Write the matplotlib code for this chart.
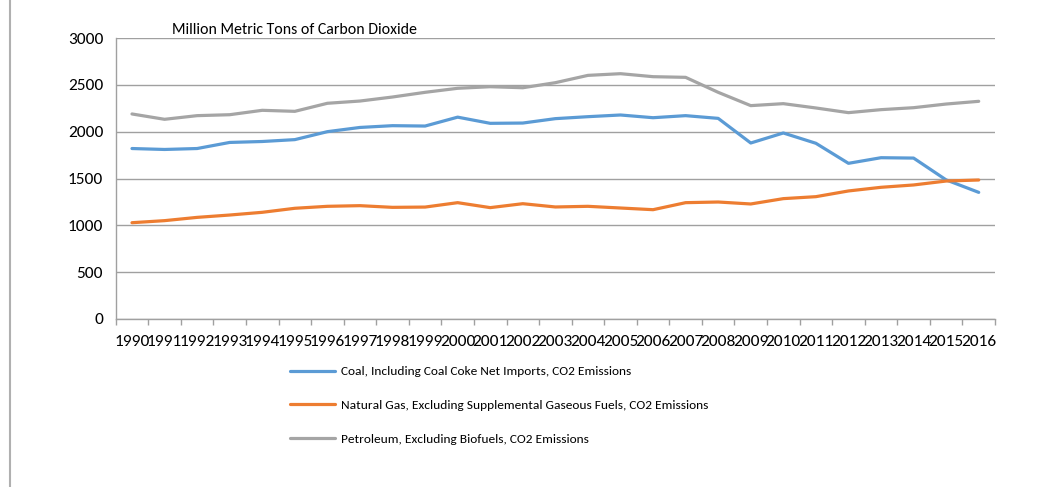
import matplotlib
matplotlib.use("Agg")
import matplotlib.pyplot as plt
from matplotlib.lines import Line2D
import numpy as np

years = [str(y) for y in range(1990, 2017)]
coal = [1820, 1810, 1820, 1885, 1895, 1915, 2000, 2045, 2064, 2060, 2155, 2089,
        2092, 2139, 2160, 2178, 2149, 2171, 2142, 1879, 1986, 1876, 1662, 1722,
        1718, 1485, 1352]
gas = [1028, 1050, 1085, 1110, 1139, 1182, 1203, 1210, 1192, 1195, 1242, 1189,
       1231, 1196, 1203, 1185, 1167, 1242, 1249, 1228, 1285, 1306, 1367, 1406,
       1431, 1473, 1484]
petro = [2189, 2132, 2171, 2181, 2228, 2217, 2303, 2327, 2370, 2420, 2463, 2480,
         2469, 2523, 2601, 2619, 2587, 2580, 2420, 2278, 2299, 2253, 2203, 2235,
         2256, 2295, 2324]
labels = ["Coal, Including Coal Coke Net Imports, CO2 Emissions",
          "Natural Gas, Excluding Supplemental Gaseous Fuels, CO2 Emissions",
          "Petroleum, Excluding Biofuels, CO2 Emissions"]
colors = ["#5B9BD5", "#ED7D31", "#A5A5A5"]
title = "Million Metric Tons of Carbon Dioxide"

plt.rcParams['font.family'] = ['Carlito', 'Liberation Sans Narrow', 'Liberation Sans', 'DejaVu Sans']

fig = plt.figure(figsize=(10.43, 4.87), dpi=100)
ax = fig.add_axes([115.7/1043, 1-319/487, (995-115.7)/1043, (319-38)/487])

x = np.arange(len(years))
lines = []
for s, c in zip([coal, gas, petro], colors):
    l, = ax.plot(x, s, color=c, lw=2.3, solid_capstyle='round', zorder=3)
    lines.append(l)

ax.set_xlim(-0.5, len(years) - 0.5)
ax.set_ylim(0, 3000)
ax.set_yticks(range(0, 3001, 500))
ax.yaxis.grid(True, color="#A0A0A0", lw=1)
ax.set_axisbelow(True)
ax.set_xticks(x)
ax.set_xticklabels(years, fontsize=12.5)
ax.set_xticks(np.arange(-0.5, len(years)), minor=True)
ax.tick_params(axis='x', which='major', length=0, pad=11.5)
ax.tick_params(axis='x', which='minor', length=4, color="#A0A0A0", width=1)
ax.tick_params(axis='y', length=0, pad=9, labelsize=12.5)
for sp in ['top', 'right']:
    ax.spines[sp].set_visible(False)
for sp in ['left', 'bottom']:
    ax.spines[sp].set_color("#A0A0A0")
    ax.spines[sp].set_linewidth(1)

fig.text(172/1043, 1-30/487, title, fontsize=11.4, ha='left', va='center')

fig.legend(lines, labels, loc='upper left', bbox_to_anchor=(278/1043, 1-354/487),
           frameon=False, fontsize=9.6, handlelength=3.4, labelspacing=1.68,
           handletextpad=0.4)

fig.add_artist(Line2D([10/1043, 10/1043], [0, 1], color="#B0B0B0", lw=1.5,
                      transform=fig.transFigure))

fig.savefig("out.png", dpi=100, facecolor="white")
